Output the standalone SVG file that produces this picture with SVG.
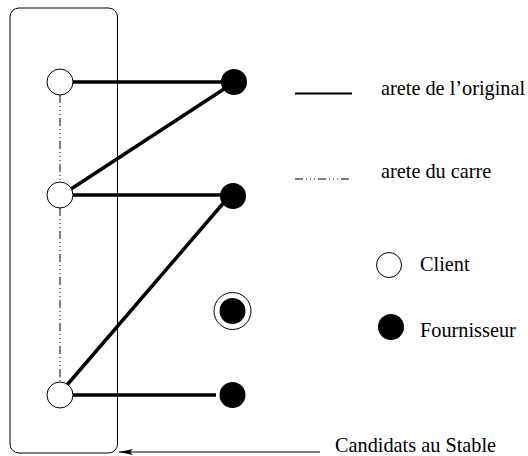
<svg xmlns="http://www.w3.org/2000/svg" width="528" height="456" viewBox="0 0 528 456">
<style>
.txt{font-family:'Liberation Serif','DejaVu Serif',serif;font-size:20.3px;fill:#000}
.orig{stroke:#000;stroke-width:3.5;fill:none}
.carre{stroke:#000;stroke-width:1;fill:none;stroke-dasharray:8 3 1 3 1 3 1 3}
.client{fill:#fff;stroke:#000;stroke-width:1}
.four{fill:#000;stroke:none}
</style>
<defs>
<marker id="ah" markerWidth="14" markerHeight="6" refX="14" refY="3" orient="auto" markerUnits="userSpaceOnUse">
<path d="M0,0 L14,3 L0,6 L3,3 Z" fill="#000"/>
</marker>
</defs>
<g id="stable-box">
<rect x="10" y="8" width="107.5" height="445" rx="9" ry="9" fill="none" stroke="#000" stroke-width="1"/>
</g>
<g id="connectors">
<line class="carre" x1="60" y1="95" x2="60" y2="182"/>
<line class="carre" x1="60" y1="208" x2="60" y2="382"/>
<line class="orig" x1="73" y1="82" x2="222" y2="82"/>
<line class="orig" x1="71" y1="189" x2="224" y2="89"/>
<line class="orig" x1="73" y1="195" x2="222" y2="195"/>
<line class="orig" x1="67" y1="385" x2="226" y2="200"/>
<line class="orig" x1="73" y1="395" x2="216" y2="395"/>
<line x1="320" y1="452" x2="119" y2="452" stroke="#000" stroke-width="1" marker-end="url(#ah)"/>
</g>
<g id="client1"><circle class="client" cx="60" cy="82" r="13"/></g>
<g id="client2"><circle class="client" cx="60" cy="195" r="13"/></g>
<g id="client3"><circle class="client" cx="60" cy="395" r="13"/></g>
<g id="four1"><circle class="four" cx="234" cy="82" r="13"/></g>
<g id="four2"><circle class="four" cx="233" cy="196" r="13"/></g>
<g id="four3"><circle cx="232.5" cy="311" r="18.5" fill="none" stroke="#000" stroke-width="1"/><circle class="four" cx="232.5" cy="311" r="13"/></g>
<g id="four4"><circle class="four" cx="232.5" cy="395" r="13"/></g>
<g id="legend">
<line x1="295" y1="93.5" x2="352" y2="93.5" stroke="#000" stroke-width="2"/>
<text class="txt" x="381" y="95">arete de l’original</text>
<line class="carre" x1="295" y1="179" x2="350" y2="179"/>
<text class="txt" x="381" y="178">arete du carre</text>
<circle class="client" cx="389" cy="265" r="12.5"/>
<text class="txt" x="420" y="271">Client</text>
<circle class="four" cx="391" cy="327" r="13"/>
<text class="txt" x="420" y="337">Fournisseur</text>
<text class="txt" x="335" y="452">Candidats au Stable</text>
</g>
</svg>
